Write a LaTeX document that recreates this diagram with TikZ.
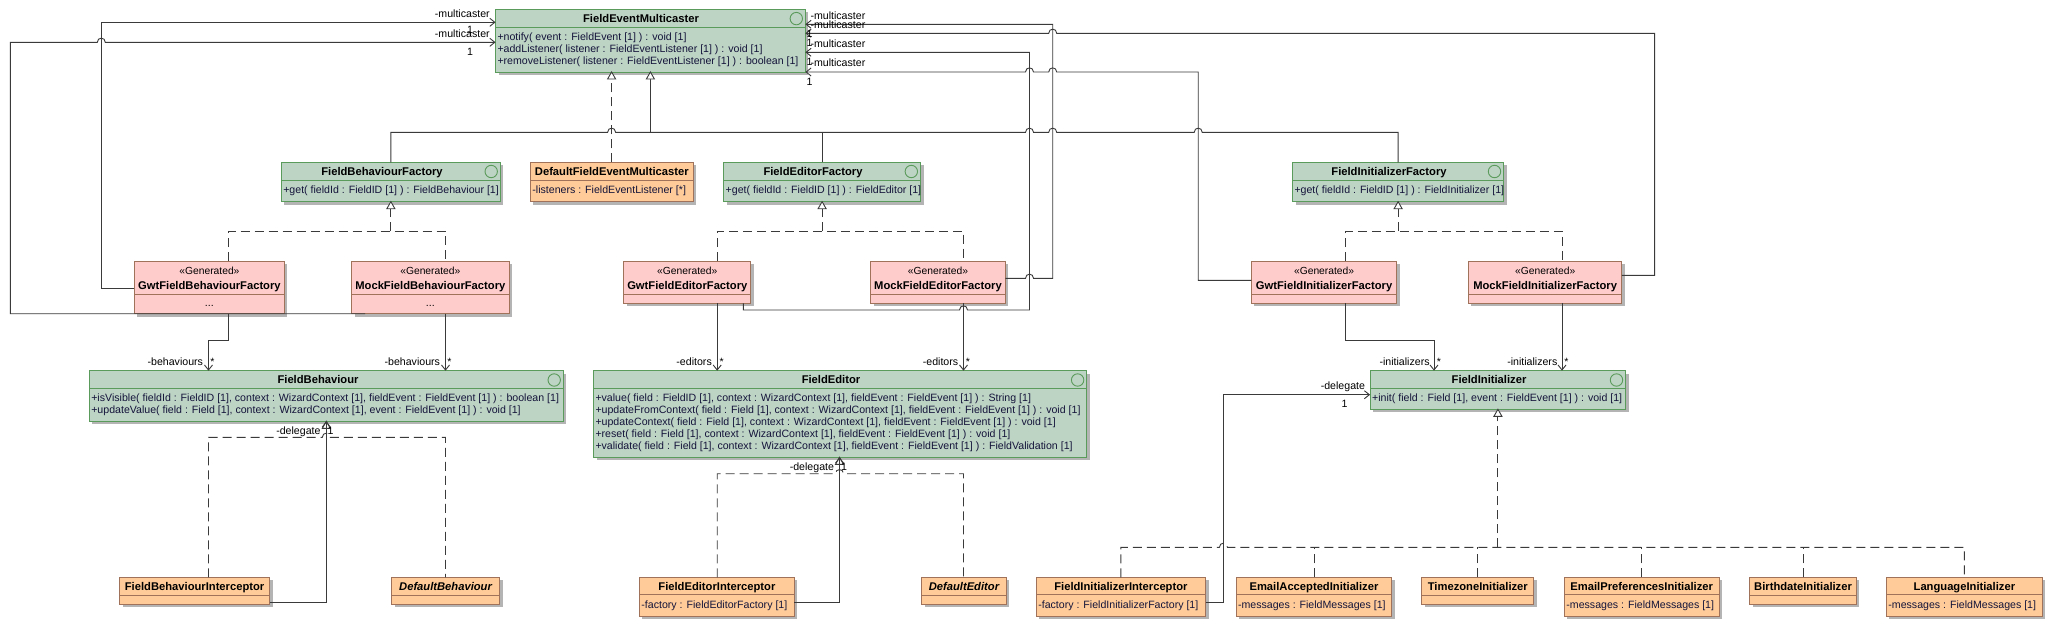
\documentclass[tikz,border=0pt]{standalone}
\usepackage{fontspec}
\setmainfont{Liberation Sans}
\usetikzlibrary{arrows.meta,fit}
\definecolor{ifill}{HTML}{BDD3C4}
\definecolor{iborder}{HTML}{5A9A5A}
\definecolor{pfill}{HTML}{FFCCCC}
\definecolor{ofill}{HTML}{FFCC99}
\definecolor{bborder}{HTML}{A0725A}
\definecolor{shadowc}{HTML}{B4B4B4}
\definecolor{linec}{HTML}{3A3A3A}
\definecolor{memc}{HTML}{14143A}
\newcommand\umlrg{\fontsize{10.6}{13}\selectfont}
\newcommand\umlbd{\fontsize{11.2}{13}\selectfont\bfseries}
\newcommand\umlst{\fontsize{10.3}{13}\selectfont}
\newcommand\umlbox[6]{%
  \fill[shadowc] (#2+3,#3+3) rectangle (#4+3,#5+3);
  \node[#6, fit={(#2,#3) (#4,#5)}, inner sep=0pt, outer sep=0pt] (#1) {};}
\newcommand\umldiv[3]{\draw[#3, line width=0.9pt] (#1.west |- 0,#2) -- (#1.east |- 0,#2);}
\newcommand\umlic[2]{\draw[iborder, line width=0.9pt] (#1,#2) circle[radius=6.2pt];}
\newcommand\umltri[1]{\draw[conn, fill=white] (#1) -- ++(-4,7) -- ++(8,0) -- cycle;}
\tikzset{
  iface/.style={draw=iborder, fill=ifill, line width=0.9pt},
  genbox/.style={draw=bborder, fill=pfill, line width=0.9pt},
  implbox/.style={draw=bborder, fill=ofill, line width=0.9pt},
  conn/.style={draw=linec, line width=0.9pt},
  dsh/.style={dash pattern=on 9pt off 5pt},
  assoc/.style={-{Straight Barb[length=5pt,width=8pt]}},
  txt/.style={inner sep=0pt, outer sep=0pt},
  nm/.style={txt, anchor=base, font=\umlbd, text=black},
  mem/.style={txt, anchor=base west, font=\umlrg, text=memc},
  lbl/.style={txt, font=\umlrg, text=black},
  jumpr/.style 2 args={insert path={-- (#1-4,#2) .. controls (#1-4,#2-5.5) and (#1+4,#2-5.5) .. (#1+4,#2)}},
  jumpl/.style 2 args={insert path={-- (#1+4,#2) .. controls (#1+4,#2-5.5) and (#1-4,#2-5.5) .. (#1-4,#2)}},
}
\begin{document}
\begin{tikzpicture}[x=1pt, y=-1pt]
\fill[white] (0,0) rectangle (2052,629);
\useasboundingbox (0,0) rectangle (2052,629);

% ---------- boxes ----------
\umlbox{FEM}{495.5}{9.3}{805.4}{72}{iface}
\umldiv{FEM}{27.3}{iborder}
\umlic{796.3}{18.6}
\node[nm] at (641,22.4) {FieldEventMulticaster};
\node[mem] at (497.5,40) {+notify( event : FieldEvent [1] ) : void [1]};
\node[mem] at (497.5,52.3) {+addListener( listener : FieldEventListener [1] ) : void [1]};
\node[mem] at (497.5,64.6) {+removeListener( listener : FieldEventListener [1] ) : boolean [1]};

\umlbox{FBF}{281.3}{162.3}{500.4}{201.7}{iface}
\umldiv{FBF}{180.7}{iborder}
\umlic{491.2}{171.5}
\node[nm] at (382,175.4) {FieldBehaviourFactory};
\node[mem] at (283.3,193.8) {+get( fieldId : FieldID [1] ) : FieldBehaviour [1]};

\umlbox{DFEM}{530.4}{162.3}{693.3}{201.7}{implbox}
\umldiv{DFEM}{180.7}{bborder}
\node[nm] at (611.8,175.4) {DefaultFieldEventMulticaster};
\node[mem] at (532.4,193.8) {-listeners : FieldEventListener [*]};

\umlbox{FEF}{723.7}{162.3}{920.5}{201.7}{iface}
\umldiv{FEF}{180.7}{iborder}
\umlic{911.3}{171.5}
\node[nm] at (813,175.4) {FieldEditorFactory};
\node[mem] at (725.7,193.8) {+get( fieldId : FieldID [1] ) : FieldEditor [1]};

\umlbox{FIF}{1292.5}{162.3}{1503.7}{201.7}{iface}
\umldiv{FIF}{180.7}{iborder}
\umlic{1494.5}{171.5}
\node[nm] at (1389,175.4) {FieldInitializerFactory};
\node[mem] at (1294.5,193.8) {+get( fieldId : FieldID [1] ) : FieldInitializer [1]};

\umlbox{GFBF}{134.4}{261}{284.4}{313.7}{genbox}
\umldiv{GFBF}{294.3}{bborder}
\node[txt, anchor=base, font=\umlst] at (GFBF.north |- 0,274.6) {«Generated»};
\node[nm] at (GFBF.north |- 0,289.8) {GwtFieldBehaviourFactory};
\node[txt, anchor=base, font=\umlrg] at (GFBF.north |- 0,306.5) {...};

\umlbox{MFBF}{351.7}{261}{509}{313.7}{genbox}
\umldiv{MFBF}{294.3}{bborder}
\node[txt, anchor=base, font=\umlst] at (MFBF.north |- 0,274.6) {«Generated»};
\node[nm] at (MFBF.north |- 0,289.8) {MockFieldBehaviourFactory};
\node[txt, anchor=base, font=\umlrg] at (MFBF.north |- 0,306.5) {...};

\umlbox{GFEF}{623.7}{261}{750.9}{303.3}{genbox}
\umldiv{GFEF}{294.3}{bborder}
\node[txt, anchor=base, font=\umlst] at (GFEF.north |- 0,274.6) {«Generated»};
\node[nm] at (GFEF.north |- 0,289.8) {GwtFieldEditorFactory};

\umlbox{MFEF}{870.5}{261}{1005.4}{303.3}{genbox}
\umldiv{MFEF}{294.3}{bborder}
\node[txt, anchor=base, font=\umlst] at (MFEF.north |- 0,274.6) {«Generated»};
\node[nm] at (MFEF.north |- 0,289.8) {MockFieldEditorFactory};

\umlbox{GFIF}{1251.4}{261}{1396.8}{303.3}{genbox}
\umldiv{GFIF}{294.3}{bborder}
\node[txt, anchor=base, font=\umlst] at (GFIF.north |- 0,274.6) {«Generated»};
\node[nm] at (GFIF.north |- 0,289.8) {GwtFieldInitializerFactory};

\umlbox{MFIF}{1468.4}{261}{1621.9}{303.3}{genbox}
\umldiv{MFIF}{294.3}{bborder}
\node[txt, anchor=base, font=\umlst] at (MFIF.north |- 0,274.6) {«Generated»};
\node[nm] at (MFIF.north |- 0,289.8) {MockFieldInitializerFactory};

\umlbox{FB}{89.3}{370.7}{563.4}{421.3}{iface}
\umldiv{FB}{388.7}{iborder}
\umlic{554.2}{380}
\node[nm] at (318,383.4) {FieldBehaviour};
\node[mem] at (91.3,401.5) {+isVisible( fieldId : FieldID [1], context : WizardContext [1], fieldEvent : FieldEvent [1] ) : boolean [1]};
\node[mem] at (91.3,413.5) {+updateValue( field : Field [1], context : WizardContext [1], event : FieldEvent [1] ) : void [1]};

\umlbox{FE}{593.5}{370.7}{1086.8}{457.3}{iface}
\umldiv{FE}{388.7}{iborder}
\umlic{1077.6}{380}
\node[nm] at (831,383.4) {FieldEditor};
\node[mem] at (595.5,401.5) {+value( field : FieldID [1], context : WizardContext [1], fieldEvent : FieldEvent [1] ) : String [1]};
\node[mem] at (595.5,413.5) {+updateFromContext( field : Field [1], context : WizardContext [1], fieldEvent : FieldEvent [1] ) : void [1]};
\node[mem] at (595.5,425.5) {+updateContext( field : Field [1], context : WizardContext [1], fieldEvent : FieldEvent [1] ) : void [1]};
\node[mem] at (595.5,437.5) {+reset( field : Field [1], context : WizardContext [1], fieldEvent : FieldEvent [1] ) : void [1]};
\node[mem] at (595.5,449.5) {+validate( field : Field [1], context : WizardContext [1], fieldEvent : FieldEvent [1] ) : FieldValidation [1]};

\umlbox{FI}{1370.1}{370.7}{1625.7}{409.3}{iface}
\umldiv{FI}{388.7}{iborder}
\umlic{1616.5}{380}
\node[nm] at (1489,383.4) {FieldInitializer};
\node[mem] at (1372.1,401.3) {+init( field : Field [1], event : FieldEvent [1] ) : void [1]};

\umlbox{FBI}{119.6}{577.3}{269.6}{604.3}{implbox}
\umldiv{FBI}{595.5}{bborder}
\node[nm] at (FBI.north |- 0,590.2) {FieldBehaviourInterceptor};

\umlbox{DB}{391.5}{577.3}{499.6}{604.3}{implbox}
\umldiv{DB}{595.5}{bborder}
\node[nm, font=\umlbd\itshape] at (DB.north |- 0,590.2) {DefaultBehaviour};

\umlbox{FEI}{639.4}{577.3}{794.4}{616}{implbox}
\umldiv{FEI}{594}{bborder}
\node[nm] at (FEI.north |- 0,590.2) {FieldEditorInterceptor};
\node[mem] at (641.4,608.4) {-factory : FieldEditorFactory [1]};

\umlbox{DE}{921.5}{577.3}{1006.4}{604.3}{implbox}
\umldiv{DE}{595.5}{bborder}
\node[nm, font=\umlbd\itshape] at (DE.north |- 0,590.2) {DefaultEditor};

\umlbox{FII}{1036.3}{577.3}{1205.5}{616}{implbox}
\umldiv{FII}{594}{bborder}
\node[nm] at (FII.north |- 0,590.2) {FieldInitializerInterceptor};
\node[mem] at (1038.3,608.4) {-factory : FieldInitializerFactory [1]};

\umlbox{EAI}{1236}{577.3}{1391.9}{616}{implbox}
\umldiv{EAI}{594}{bborder}
\node[nm] at (EAI.north |- 0,590.2) {EmailAcceptedInitializer};
\node[mem] at (1238,608.4) {-messages : FieldMessages [1]};

\umlbox{TZI}{1421.9}{577.3}{1533.7}{604.3}{implbox}
\umldiv{TZI}{595.5}{bborder}
\node[nm] at (TZI.north |- 0,590.2) {TimezoneInitializer};

\umlbox{EPI}{1564.4}{577.3}{1719}{616}{implbox}
\umldiv{EPI}{594}{bborder}
\node[nm] at (EPI.north |- 0,590.2) {EmailPreferencesInitializer};
\node[mem] at (1566.4,608.4) {-messages : FieldMessages [1]};

\umlbox{BDI}{1749.7}{577.3}{1856.4}{604.3}{implbox}
\umldiv{BDI}{595.5}{bborder}
\node[nm] at (BDI.north |- 0,590.2) {BirthdateInitializer};

\umlbox{LGI}{1886.4}{577.3}{2042.3}{616}{implbox}
\umldiv{LGI}{594}{bborder}
\node[nm] at (LGI.north |- 0,590.2) {LanguageInitializer};
\node[mem] at (1888.4,608.4) {-messages : FieldMessages [1]};

% ---------- realizations to FieldEventMulticaster ----------
\draw[conn, dsh] (DFEM.north -| 611.6,0) -- (611.6,79);
\umltri{FEM.south -| 611.6,0}
\draw[conn] (FBF.north) -- (FBF.north |- 0,132.3) [jumpr={611.6}{132.3}] [jumpr={1029.5}{132.3}] [jumpr={1052.7}{132.3}] [jumpr={1198.2}{132.3}] -- (FIF.north |- 0,132.3) -- (FIF.north);
\draw[conn] (FEF.north) -- (FEF.north |- 0,132.3);
\draw[conn] (650.4,132.3) -- (650.4,79);
\umltri{FEM.south -| 650.4,0}

% ---------- realizations of factories ----------
\draw[conn, dsh] (GFBF.north -| 228.6,0) -- (228.6,231) -- (445.5,231) -- (MFBF.north -| 445.5,0);
\draw[conn, dsh] (FBF.south |- 0,231) -- ([yshift=-7pt]FBF.south);
\umltri{FBF.south}
\draw[conn, dsh] (GFEF.north -| 717.2,0) -- (717.2,231) -- (963.5,231) -- (MFEF.north -| 963.5,0);
\draw[conn, dsh] (FEF.south |- 0,231) -- ([yshift=-7pt]FEF.south);
\umltri{FEF.south}
\draw[conn, dsh] (GFIF.north -| 1345.8,0) -- (1345.8,231) -- (1562,231) -- (MFIF.north -| 1562,0);
\draw[conn, dsh] (FIF.south |- 0,231) -- ([yshift=-7pt]FIF.south);
\umltri{FIF.south}

% ---------- -multicaster associations ----------
\draw[conn, assoc] (GFBF.west |- 0,288.3) -- (101.3,288.3) -- (101.3,22.3) -- (FEM.west |- 0,22.3);
\draw[conn, assoc] (MFBF.south -| 365,0) -- (10.3,313.7) -- (10.3,42.3) [jumpr={101.3}{42.3}] -- (FEM.west |- 0,42.3);
\draw[conn, assoc] (MFEF.east |- 0,278.3) [jumpr={1029.5}{278.3}] -- (1052.7,278.3) -- (1052.7,24.3) -- (FEM.east |- 0,24.3);
\draw[conn, assoc] (MFIF.east |- 0,275.3) -- (1654.6,275.3) -- (1654.6,33.3) [jumpl={1052.7}{33.3}] -- (FEM.east |- 0,33.3);
\draw[conn, assoc] (GFEF.south -| 743.3,0) -- (743.3,310) [jumpr={963.5}{310}] -- (1029.5,310) -- (1029.5,52.3) -- (FEM.east |- 0,52.3);
\draw[conn, assoc] (GFIF.west |- 0,280.3) -- (1198.2,280.3) -- (1198.2,72) [jumpl={1052.7}{72}] [jumpl={1029.5}{72}] -- (FEM.south east);

\node[lbl, anchor=base east] at (489.7,17.4) {-multicaster};
\node[lbl, anchor=base] at (470,33.6) {1};
\node[lbl, anchor=base east] at (489.7,37.4) {-multicaster};
\node[lbl, anchor=base] at (470,55.2) {1};
\node[lbl, anchor=base west] at (810.5,19) {-multicaster};
\node[lbl, anchor=base west] at (810.5,28.3) {-multicaster};
\node[lbl, anchor=base west] at (810.5,47) {-multicaster};
\node[lbl, anchor=base west] at (810.5,66.8) {-multicaster};
\node[lbl, anchor=base] at (809.6,37.5) {1};
\node[lbl, anchor=base] at (809.6,46.8) {1};
\node[lbl, anchor=base] at (809.6,65.2) {1};
\node[lbl, anchor=base] at (809.6,85.2) {1};

% ---------- collections ----------
\draw[conn, assoc] (GFBF.south -| 228.6,0) -- (228.6,340.3) -- (208.5,340.3) -- (FB.north -| 208.5,0);
\draw[conn, assoc] (MFBF.south -| 445.5,0) -- (FB.north -| 445.5,0);
\draw[conn, assoc] (GFEF.south -| 717.2,0) -- (FE.north -| 717.2,0);
\draw[conn, assoc] (MFEF.south -| 963.5,0) -- (FE.north -| 963.5,0);
\draw[conn, assoc] (GFIF.south -| 1345.8,0) -- (1345.8,340.3) -- (1434,340.3) -- (FI.north -| 1434,0);
\draw[conn, assoc] (MFIF.south -| 1562,0) -- (FI.north -| 1562,0);
\node[lbl, anchor=base east] at (203,365.3) {-behaviours};
\node[lbl, anchor=base] at (212.5,365.3) {*};
\node[lbl, anchor=base east] at (440,365.3) {-behaviours};
\node[lbl, anchor=base] at (449.5,365.3) {*};
\node[lbl, anchor=base east] at (711.8,365.3) {-editors};
\node[lbl, anchor=base] at (721.8,365.3) {*};
\node[lbl, anchor=base east] at (958.2,365.3) {-editors};
\node[lbl, anchor=base] at (968,365.3) {*};
\node[lbl, anchor=base east] at (1429.6,365.3) {-initializers};
\node[lbl, anchor=base] at (1438.8,365.3) {*};
\node[lbl, anchor=base east] at (1557.3,365.3) {-initializers};
\node[lbl, anchor=base] at (1566.3,365.3) {*};

% ---------- realizations of FieldBehaviour / FieldEditor / FieldInitializer ----------
\draw[conn, dsh] (FBI.north -| 208.5,0) -- (208.5,437.3) [jumpr={326.3}{437.3}] -- (445.5,437.3) -- (DB.north -| 445.5,0);
\umltri{FB.south -| 326.3,0}
\draw[conn, dsh] (FEI.north -| 717.2,0) -- (717.2,473.7) [jumpr={839.5}{473.7}] -- (963.5,473.7) -- (DE.north -| 963.5,0);
\umltri{FE.south -| 839.5,0}
\draw[conn, dsh] (FI.south |- 0,547.3) -- ([yshift=-7pt]FI.south);
\umltri{FI.south}
\draw[conn, dsh] (FII.north) -- (FII.north |- 0,547.3) [jumpr={1223.4}{547.3}] -- (LGI.north |- 0,547.3) -- (LGI.north);
\draw[conn, dsh] (EAI.north) -- (EAI.north |- 0,547.3);
\draw[conn, dsh] (TZI.north) -- (TZI.north |- 0,547.3);
\draw[conn, dsh] (EPI.north) -- (EPI.north |- 0,547.3);
\draw[conn, dsh] (BDI.north) -- (BDI.north |- 0,547.3);

% ---------- delegates ----------
\draw[conn, assoc] (FBI.east |- 0,602.3) -- (326.3,602.3) -- (FB.south -| 326.3,0);
\draw[conn, assoc] (FEI.east |- 0,602.3) -- (839.5,602.3) -- (FE.south -| 839.5,0);
\draw[conn, assoc] (FII.east |- 0,602.3) -- (1223.4,602.3) -- (1223.4,394.7) -- (FI.west |- 0,394.7);
\node[lbl, anchor=base east] at (320.5,434.3) {-delegate};
\node[lbl, anchor=base] at (330.5,434.3) {1};
\node[lbl, anchor=base east] at (834,470.3) {-delegate};
\node[lbl, anchor=base] at (844,470.3) {1};
\node[lbl, anchor=base east] at (1365,389.3) {-delegate};
\node[lbl, anchor=base] at (1344.6,407) {1};
\end{tikzpicture}
\end{document}
